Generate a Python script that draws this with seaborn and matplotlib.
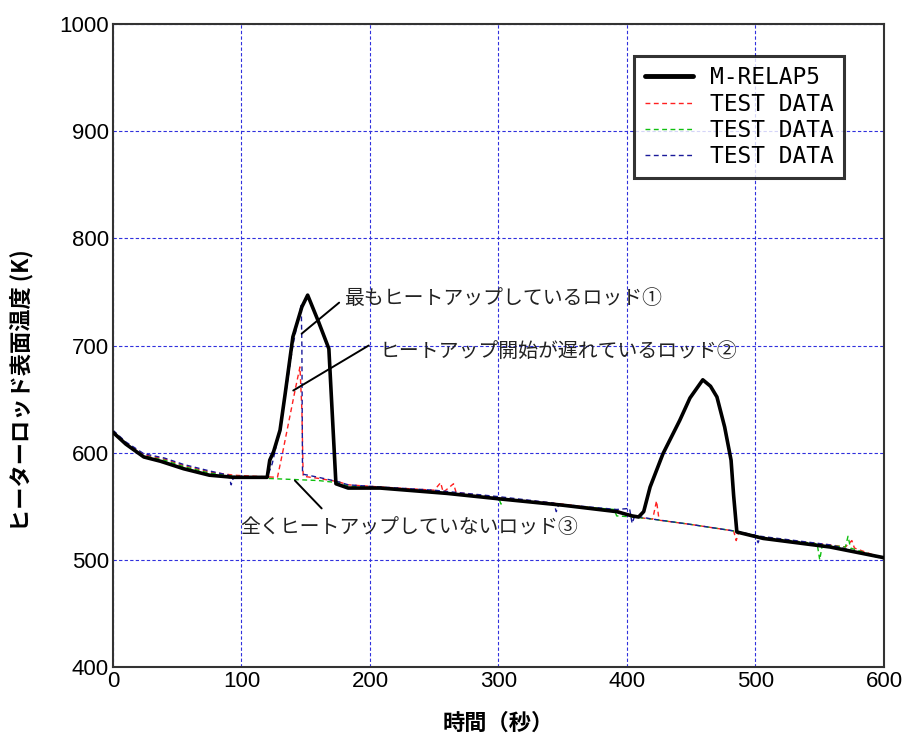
import numpy as np
import pandas as pd
import matplotlib
matplotlib.use("Agg")
import matplotlib.pyplot as plt
import seaborn as sns

# M-RELAP5 calculation
relap_t = [0, 10, 24, 37, 55, 75, 94, 120, 122, 125, 130, 134, 140, 147, 151.5, 160, 168, 173.5,
           183, 208, 260, 300, 350, 392, 404, 409, 413, 418, 428, 441, 449, 459, 465, 470, 476,
           481, 483, 485.5, 506, 558, 600]
relap_k = [619, 608, 596, 592, 585, 579, 577, 577, 593, 601, 621, 655, 708, 736, 747, 722, 697, 571,
           567, 567, 562, 557, 551, 545, 541, 540, 545, 568, 599, 630, 651, 668, 662, 652, 624,
           593, 560, 526, 520, 512, 502]

# test data, rod 2 (heat-up delayed)
rod2_t = [0, 10, 24, 40, 55, 75, 94, 110, 128, 132, 137, 142, 145.5, 147, 148, 160, 175, 183, 208,
          250, 255, 257, 265, 267, 300, 350, 392, 405, 420, 423, 425, 450, 483, 485, 487, 506, 558,
          570, 575, 577, 600]
rod2_k = [620, 609, 598, 594, 588, 582, 579, 578, 577, 600, 630, 660, 680, 640, 578, 576, 573, 570, 568,
          565, 572, 563, 571, 563, 558, 552, 546, 540, 538, 555, 537, 533, 527, 518, 526, 521, 514,
          512, 518, 511, 501]

# test data, rod 3 (no heat-up)
rod3_t = [0, 10, 24, 40, 55, 75, 94, 120, 140, 160, 175, 183, 208, 250, 300, 302, 304, 350, 390,
          392, 405, 420, 450, 483, 506, 548, 550, 552, 570, 572, 574, 600]
rod3_k = [619, 608, 597, 593, 587, 581, 578, 576, 575, 574, 572, 569, 567, 564, 558, 552, 557, 551, 547,
          541, 540, 538, 533, 527, 521, 515, 500, 514, 512, 522, 511, 501]

# test data, rod 1 (most heat-up)
rod1_t = [0, 10, 24, 40, 55, 75, 90, 92, 94, 120, 124, 130, 135, 140, 146.5, 147, 147.5, 160, 175,
          183, 208, 250, 300, 343, 345, 347, 392, 402, 404, 406, 420, 450, 483, 500, 502, 504, 558, 600]
rod1_k = [621, 610, 599, 595, 589, 583, 579, 570, 578, 577, 590, 622, 660, 700, 738, 700, 580, 577, 573,
          570, 568, 565, 559, 553, 545, 552, 547, 548, 534, 541, 538, 533, 527, 523, 516, 522, 514, 501]

legend_labels = ["M-RELAP5", "TEST DATA", "TEST DATA", "TEST DATA"]
x_ticks = [0, 100, 200, 300, 400, 500, 600]
y_ticks = [400, 500, 600, 700, 800, 900, 1000]

sns.set_style("white")
plt.rcParams['font.family'] = ['Noto Sans CJK JP', 'DejaVu Sans']
plt.rcParams['text.color'] = 'black'

fig = plt.figure(figsize=(9.06, 7.4), dpi=100)
ax = fig.add_axes([0.1247, 0.0986, 0.851, 0.869])

series = [
    (relap_t, relap_k, "black", "-", 2.6),
    (rod2_t, rod2_k, "#ff2020", (0, (3.5, 2.5)), 1.0),
    (rod3_t, rod3_k, "#10c010", (0, (3.5, 2.5)), 1.0),
    (rod1_t, rod1_k, "#1a1a9a", (0, (3.5, 2.5)), 1.0),
]
for (t, k, c, ls, lw), lab in zip(series, legend_labels):
    df = pd.DataFrame({"t": t, "k": k})
    sns.lineplot(data=df, x="t", y="k", ax=ax, color=c, linestyle=ls, linewidth=lw,
                 label=lab, sort=False, estimator=None)
# keep calculation on top
ax.lines[0].set_zorder(5)

ax.set_xlim(0, 600)
ax.set_ylim(400, 1000)
ax.set_xticks(x_ticks)
ax.set_yticks(y_ticks)
ax.grid(True, color="#3030dd", linestyle=(0, (3, 2)), linewidth=0.8)
for s in ax.spines.values():
    s.set_color("#333333")
    s.set_linewidth(1.5)
ax.tick_params(direction="in", length=3, labelsize=16, pad=3, labelcolor="black")
for lbl in ax.get_xticklabels() + ax.get_yticklabels():
    lbl.set_family("Liberation Sans")

ax.set_xlabel("時間（秒）", fontsize=16, fontweight="bold", color="black")
ax.set_ylabel("ヒーターロッド表面温度 (K)", fontsize=16, fontweight="bold", color="black")
ax.xaxis.set_label_coords(0.5, -0.07)
ax.yaxis.set_label_coords(-0.103, 0.43)

leg = ax.legend(loc="upper right", bbox_to_anchor=(0.948, 0.95), frameon=True,
                prop={"family": "DejaVu Sans Mono", "size": 16.5},
                fancybox=False, handlelength=2.1, handletextpad=0.75, labelspacing=0.14,
                borderpad=0.45, borderaxespad=0.0, shadow=False)
leg.get_frame().set_edgecolor("black")
leg.get_frame().set_linewidth(2.2)
leg.legend_handles[0].set_linewidth(3.5)

# annotations
ann_font = 14.3
ax.text(180, 744, "最もヒートアップしているロッド①", fontsize=ann_font, va="center", ha="left", color="#222222")
ax.plot([176, 146.8], [740, 711], color="black", linewidth=1.4)
ax.text(207, 694, "ヒートアップ開始が遅れているロッド②", fontsize=ann_font, va="center", ha="left", color="#222222")
ax.plot([199, 140.3], [700, 658], color="black", linewidth=1.4)
ax.text(99, 530, "全くヒートアップしていないロッド③", fontsize=ann_font, va="center", ha="left", color="#222222")
ax.plot([162.4, 141.6], [548, 574], color="black", linewidth=1.4)

fig.savefig("out.png", dpi=100)
